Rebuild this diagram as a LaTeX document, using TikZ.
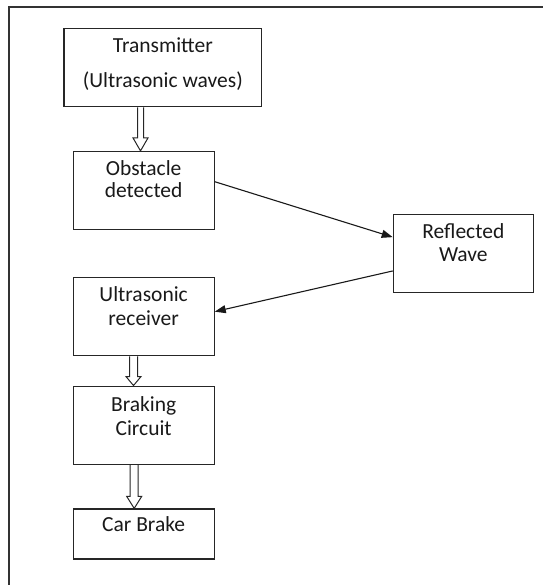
\documentclass[tikz,border=0pt]{standalone}
\usepackage{fontspec}
\setmainfont{Carlito}
\usetikzlibrary{calc,arrows.meta}
\newcommand{\hollowarr}[6]{%
  \draw[hollowline] ($(#1.south -| #3)+(-#4,0)$) -- ($(#2.north -| #3)+(-#4,#6)$)
    -- ($(#2.north -| #3)+(-#5,#6)$) -- (#2.north -| #3)
    -- ($(#2.north -| #3)+(#5,#6)$) -- ($(#2.north -| #3)+(#4,#6)$)
    -- ($(#1.south -| #3)+(#4,0)$);}
\begin{document}
\begin{tikzpicture}[x=1pt,y=1pt,
  box/.style={draw=black!85,line width=1.2pt,inner sep=0pt,minimum width=141pt,minimum height=78pt},
  txt/.style={anchor=base,inner sep=0pt,align=center,text=black!90,font=\fontsize{21.5}{23.3}\selectfont},
  hollowline/.style={draw=black!85,line width=1pt,line join=miter},
  conn/.style={draw=black!90,line width=1.1pt,-{Triangle[length=11pt,width=8pt]}},
  frame/.style={draw=black!80,line width=2pt}]
\useasboundingbox (0,0) rectangle (542,-585);
% frame
\coordinate (fbl) at (9,-586);
\coordinate (ftl) at (9,-7);
\coordinate (ftr) at (543,-7);
\draw[frame] (fbl) -- (ftl) -- (ftr);
% boxes
\node[box,minimum width=197.7pt,minimum height=78.4pt] (trans) at (162.85,-67.5) {};
\node[box] (obst) at (143.65,-190.5) {};
\node[box,minimum width=140pt] (refl) at (463.3,-253.15) {};
\node[box] (recv) at (143.65,-316.65) {};
\node[box] (brak) at (143.65,-425.15) {};
\node[box,minimum height=50pt] (car) at (143.65,-534) {};
% texts (anchor = baseline of last line)
\node[txt,font=\fontsize{21.5}{35}\selectfont] (ttrans) at (162.85,-88) {Transmitter\\(Ultrasonic waves)};
\node[txt,font=\fontsize{21.5}{21.5}\selectfont] (tobst) at (143.65,-197) {Obstacle\\detected};
\node[txt] (trefl) at (463.3,-261.7) {Reflected\\Wave};
\node[txt] (trecv) at (143.65,-325) {Ultrasonic\\receiver};
\node[txt] (tbrak) at (143.65,-435) {Braking\\Circuit};
\node[txt] (tcar) at (143.65,-531.7) {Car Brake};
% hollow arrows
\coordinate (h1) at (140.5,0);
\coordinate (h2) at (133.5,0);
\coordinate (h3) at (134.2,0);
\hollowarr{trans}{obst}{h1}{3}{7.5}{13}
\hollowarr{recv}{brak}{h2}{4}{7.5}{9}
\hollowarr{brak}{car}{h3}{4}{7.5}{12}
% connectors
\draw[conn] ([yshift=8.8pt]obst.east) -- ([yshift=16pt]refl.west);
\draw[conn] ([yshift=-17.8pt]refl.west) -- ([yshift=5pt]recv.east);
\end{tikzpicture}
\end{document}
